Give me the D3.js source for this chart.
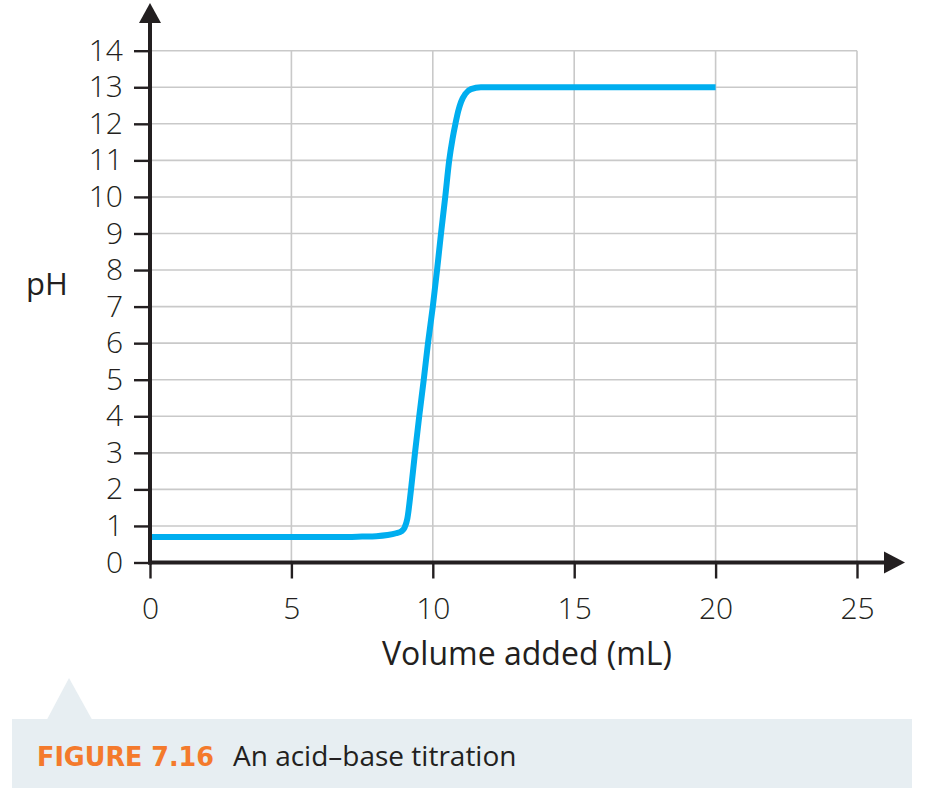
<!DOCTYPE html>
<html>
<head>
<meta charset="utf-8">
<script src="https://d3js.org/d3.v7.min.js"></script>
<style>
  body { margin: 0; background: #fff; }
  text { font-family: "Open Sans", sans-serif; fill: #231f20; }
</style>
</head>
<body>
<script>
// data
const xTicks = [0, 5, 10, 15, 20, 25];
const yTicks = [0, 1, 2, 3, 4, 5, 6, 7, 8, 9, 10, 11, 12, 13, 14];
const volume = [0, 2, 4, 6, 7, 7.5, 8, 8.4, 8.7, 8.9, 9.0, 9.1, 9.23, 9.37, 9.52, 9.68, 9.83, 10.0,
                10.15, 10.29, 10.44, 10.58, 10.7, 10.8, 10.9, 11.0, 11.15, 11.35, 11.7, 12.2, 14, 16, 18, 20];
const pH =     [0.7, 0.7, 0.7, 0.7, 0.7, 0.71, 0.72, 0.75, 0.8, 0.86, 0.95, 1.2, 2, 3, 4, 5, 6, 7,
                8, 9, 10, 11, 11.6, 12, 12.35, 12.6, 12.82, 12.95, 13, 13, 13, 13, 13, 13];

const width = 925, height = 794;
const svg = d3.select("body").append("svg")
    .attr("width", width)
    .attr("height", height);

const x = d3.scaleLinear().domain([0, 25]).range([150, 857]);
const y = d3.scaleLinear().domain([0, 14]).range([562.5, 50.7]);

// grid
svg.append("g")
  .selectAll("line")
  .data(yTicks.filter(d => d > 0))
  .join("line")
    .attr("x1", x(0)).attr("x2", x(25))
    .attr("y1", d => y(d)).attr("y2", d => y(d))
    .attr("stroke", "#c9c9c9").attr("stroke-width", 1.6);

svg.append("g")
  .selectAll("line")
  .data(xTicks.filter(d => d > 0))
  .join("line")
    .attr("x1", d => x(d)).attr("x2", d => x(d))
    .attr("y1", y(0)).attr("y2", y(14))
    .attr("stroke", "#c9c9c9").attr("stroke-width", 1.6);

// curve
const line = d3.line()
    .x(d => x(d[0]))
    .y(d => y(d[1]))
    .curve(d3.curveMonotoneX);

svg.append("path")
    .datum(volume.map((v, i) => [v, pH[i]]))
    .attr("d", line)
    .attr("fill", "none")
    .attr("stroke", "#00aeef")
    .attr("stroke-width", 6);

// axes
let yAxis = svg.append("g")
    .attr("transform", `translate(${x(0)},0)`)
    .call(d3.axisLeft(y).tickValues(yTicks).tickSize(16).tickPadding(11));
let xAxis = svg.append("g")
    .attr("transform", `translate(0,${y(0)})`)
    .call(d3.axisBottom(x).tickValues(xTicks).tickSize(16).tickPadding(12));

[yAxis, xAxis].forEach(g => {
  g.select(".domain").remove();
  g.selectAll(".tick line").attr("stroke", "#231f20").attr("stroke-width", 2.4);
  g.selectAll(".tick text")
    .style("font-family", '"Open Sans", sans-serif')
    .style("font-weight", 300)
    .style("font-size", "30px")
    .style("fill", "#231f20");
});
xAxis.selectAll(".tick text").attr("dy", "0.95em");

// axis lines with arrows
svg.append("line")
    .attr("x1", x(0)).attr("x2", x(0))
    .attr("y1", y(0) + 2).attr("y2", 22)
    .attr("stroke", "#231f20").attr("stroke-width", 4);
svg.append("path")
    .attr("d", `M${x(0) - 11},23 L${x(0)},3 L${x(0) + 11},23 Z`)
    .attr("fill", "#231f20");

svg.append("line")
    .attr("x1", x(0) - 2).attr("x2", 885)
    .attr("y1", y(0)).attr("y2", y(0))
    .attr("stroke", "#231f20").attr("stroke-width", 4);
svg.append("path")
    .attr("d", `M884,${y(0) - 11} L905,${y(0)} L884,${y(0) + 11} Z`)
    .attr("fill", "#231f20");

// axis titles
svg.append("text")
    .attr("x", 47).attr("y", 295)
    .attr("text-anchor", "middle")
    .style("font-size", "31px")
    .text("pH");

svg.append("text")
    .attr("x", 527).attr("y", 665)
    .attr("text-anchor", "middle")
    .style("font-size", "32px")
    .text("Volume added (mL)");

// caption band
svg.append("rect")
    .attr("x", 12).attr("y", 719)
    .attr("width", 900).attr("height", 69)
    .attr("fill", "#e7eef2");
svg.append("path")
    .attr("d", "M47,719.5 L69,678 L92,719.5 Z")
    .attr("fill", "#e7eef2");

svg.append("text")
    .attr("x", 37).attr("y", 766)
    .attr("textLength", 177)
    .attr("lengthAdjust", "spacingAndGlyphs")
    .style("font-family", '"Liberation Sans Narrow", "DejaVu Sans Condensed", sans-serif')
    .style("font-weight", 700)
    .style("font-size", "26px")
    .style("fill", "#f47a2c")
    .text("FIGURE 7.16");

svg.append("text")
    .attr("x", 233).attr("y", 766)
    .style("font-size", "28px")
    .text("An acid–base titration");
</script>
</body>
</html>
